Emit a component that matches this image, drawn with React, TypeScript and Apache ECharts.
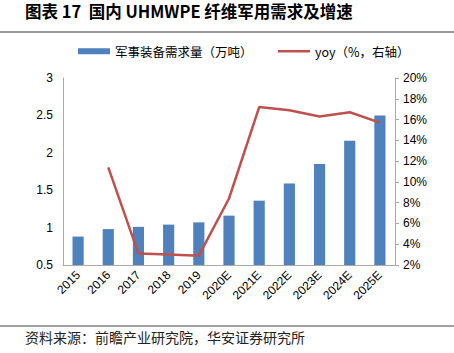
import React, { useEffect, useRef } from "react";
import * as echarts from "echarts";

const categories = ["2015", "2016", "2017", "2018", "2019", "2020E", "2021E", "2022E", "2023E", "2024E", "2025E"];
const demand = [0.88, 0.98, 1.01, 1.04, 1.07, 1.16, 1.36, 1.59, 1.85, 2.16, 2.5];
const yoy = [null, 11.4, 3.1, 3.0, 2.9, 8.4, 17.2, 16.9, 16.3, 16.7, 15.7];
const titleText = "图表 17  国内 UHMWPE 纤维军用需求及增速";
const sourceText = "资料来源：前瞻产业研究院，华安证券研究所";
const barName = "军事装备需求量（万吨）";
const lineName = "yoy（%，右轴）";

export default function App() {
  const ref = useRef<HTMLDivElement>(null);
  useEffect(() => {
    const chart = echarts.init(ref.current!, null, { renderer: "svg" });
    const axisFont = { fontFamily: "Liberation Sans, Arial, sans-serif", fontSize: 12, color: "#000" };
    const legendText = { fontFamily: "'Noto Sans CJK SC', sans-serif", fontSize: 12.5, color: "#000" };
    chart.setOption({
      animation: false,
      backgroundColor: "#fff",
      graphic: [
        {
          type: "text",
          left: 25,
          top: 3,
          style: { text: titleText, font: "bold 16.5px 'Noto Sans CJK SC', sans-serif", fill: "#000" },
        },
        { type: "line", shape: { x1: 0, y1: 32, x2: 454, y2: 32 }, style: { stroke: "#777", lineWidth: 1.5 } },
        { type: "line", shape: { x1: 0, y1: 326, x2: 454, y2: 326 }, style: { stroke: "#444", lineWidth: 1 } },
        {
          type: "text",
          left: 25,
          top: 330,
          style: { text: sourceText, font: "14px 'Noto Sans CJK SC', sans-serif", fill: "#222" },
        },
      ],
      legend: [
        {
          left: 73,
          top: 40,
          itemWidth: 32,
          itemHeight: 6,
          itemGap: 4,
          textStyle: legendText,
          data: [{ name: barName, icon: "rect" }],
        },
        {
          left: 273,
          top: 40,
          itemWidth: 32,
          itemHeight: 2.5,
          textStyle: legendText,
          data: [{ name: lineName, icon: "rect", itemStyle: { color: "#C0504D" } }],
        },
      ],
      grid: { left: 63, right: 59, top: 78, bottom: 88 },
      xAxis: {
        type: "category",
        data: categories,
        axisLine: { lineStyle: { color: "#aaa" } },
        axisTick: { show: false },
        axisLabel: { ...axisFont, rotate: 45, interval: 0, margin: 8 },
      },
      yAxis: [
        {
          type: "value",
          min: 0.5,
          max: 3,
          interval: 0.5,
          splitLine: { show: false },
          axisLine: { show: true, lineStyle: { color: "#aaa" } },
          axisTick: { show: false },
          axisLabel: { ...axisFont, margin: 10 },
        },
        {
          type: "value",
          min: 2,
          max: 20,
          interval: 2,
          position: "right",
          splitLine: { show: false },
          axisLine: { show: true, lineStyle: { color: "#aaa" } },
          axisTick: { show: true, length: 4, inside: false, lineStyle: { color: "#aaa" } },
          axisLabel: { ...axisFont, margin: 8, formatter: "{value}%" },
        },
      ],
      series: [
        {
          name: barName,
          type: "bar",
          data: demand,
          barWidth: "37%",
          itemStyle: { color: "#4F81BD" },
        },
        {
          name: lineName,
          type: "line",
          yAxisIndex: 1,
          data: yoy,
          symbol: "none",
          lineStyle: { color: "#C0504D", width: 2.5 },
          itemStyle: { color: "#C0504D" },
        },
      ],
    });
    return () => chart.dispose();
  }, []);
  return <div ref={ref} style={{ width: 454, height: 353, position: "absolute", left: 0, top: 0 }} />;
}
